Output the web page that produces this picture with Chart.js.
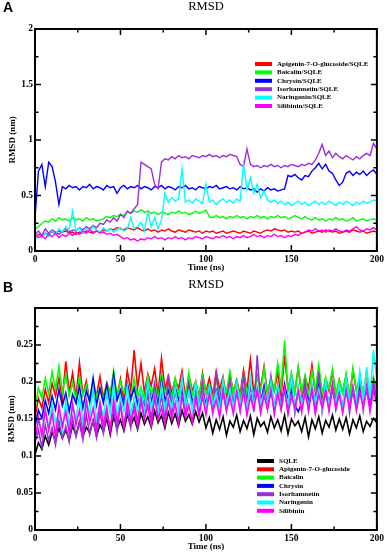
<!DOCTYPE html>
<html>
<head>
<meta charset="utf-8">
<script src="https://cdn.jsdelivr.net/npm/chart.js@4.4.1/dist/chart.umd.min.js"></script>
<style>
  html, body { margin: 0; padding: 0; background: #fff; }
  body { width: 387px; height: 553px; position: relative; overflow: hidden; }
  canvas { position: absolute; left: 0; }
  #chartA { top: 0; }
  #chartB { top: 275px; }
</style>
</head>
<body>
<canvas id="chartA" width="387" height="275"></canvas>
<canvas id="chartB" width="387" height="278"></canvas>
<script>
// sampling grid (ns)
const timeNs = [0,2,4,6,8,10,12,14,16,18,20,22,24,26,28,30,32,34,36,38,40,42,44,46,48,50,52,54,56,58,60,62,64,66,68,70,72,74,76,78,80,82,84,86,88,90,92,94,96,98,100,102,104,106,108,110,112,114,116,118,120,122,124,126,128,130,132,134,136,138,140,142,144,146,148,150,152,154,156,158,160,162,164,166,168,170,172,174,176,178,180,182,184,186,188,190,192,194,196,198,200];

const timeTicks = [0, 50, 100, 150, 200];
const timeMinorTicks = [25, 75, 125, 175];
const rmsdTicksA = [0, 0.5, 1, 1.5, 2];
const rmsdMinorA = [0.25, 0.75, 1.25, 1.75];
const rmsdTicksB = [0, 0.05, 0.1, 0.15, 0.2, 0.25, 0.3];
const rmsdMinorB = [0.025, 0.075, 0.125, 0.175, 0.225, 0.275];

// ---- panel A: complexes ----
const namesA = ["Apigenin-7-O-glucoside/SQLE", "Baicalin/SQLE", "Chrysin/SQLE", "Isorhamnetin/SQLE", "Naringenin/SQLE", "Silibinin/SQLE"];
const colorsA = ["#ff0000", "#00ff00", "#0000ff", "#9b30d9", "#00ffff", "#ff00ff"];

const apigeninA = [
  0.13,0.15,0.14,0.16,0.15,0.17,0.16,0.18,0.17,0.18,
  0.16,0.17,0.15,0.17,0.16,0.18,0.17,0.16,0.18,0.17,
  0.19,0.18,0.20,0.19,0.21,0.20,0.19,0.21,0.20,0.19,
  0.21,0.19,0.18,0.20,0.18,0.19,0.17,0.19,0.18,0.20,
  0.18,0.17,0.19,0.18,0.17,0.19,0.18,0.17,0.18,0.16,
  0.18,0.17,0.18,0.16,0.17,0.18,0.16,0.17,0.18,0.17,
  0.16,0.18,0.17,0.16,0.18,0.17,0.16,0.18,0.19,0.18,
  0.20,0.19,0.18,0.19,0.17,0.18,0.17,0.18,0.16,0.17,
  0.18,0.16,0.17,0.18,0.17,0.19,0.18,0.17,0.18,0.16,
  0.17,0.18,0.17,0.19,0.18,0.17,0.18,0.16,0.17,0.18,
  0.17];
const baicalinA = [
  0.20,0.22,0.25,0.27,0.26,0.29,0.27,0.30,0.28,0.29,
  0.27,0.30,0.28,0.29,0.27,0.30,0.28,0.29,0.27,0.28,
  0.29,0.31,0.30,0.32,0.31,0.33,0.32,0.35,0.34,0.36,
  0.35,0.37,0.35,0.36,0.34,0.35,0.33,0.35,0.34,0.33,
  0.35,0.34,0.36,0.34,0.35,0.33,0.34,0.36,0.34,0.35,
  0.37,0.31,0.30,0.32,0.30,0.31,0.29,0.31,0.30,0.32,
  0.30,0.31,0.29,0.31,0.30,0.32,0.30,0.31,0.29,0.31,
  0.30,0.32,0.30,0.31,0.29,0.30,0.32,0.30,0.29,0.31,
  0.29,0.28,0.30,0.28,0.29,0.27,0.29,0.28,0.30,0.28,
  0.29,0.27,0.28,0.30,0.27,0.28,0.29,0.27,0.28,0.29,
  0.28];
const chrysinA = [
  0.30,0.72,0.78,0.58,0.80,0.76,0.62,0.42,0.58,0.56,
  0.59,0.57,0.58,0.55,0.58,0.57,0.60,0.56,0.58,0.57,
  0.55,0.59,0.57,0.58,0.52,0.57,0.59,0.56,0.58,0.57,
  0.59,0.56,0.58,0.57,0.55,0.58,0.57,0.59,0.56,0.58,
  0.57,0.55,0.58,0.57,0.59,0.56,0.57,0.55,0.58,0.57,
  0.56,0.58,0.57,0.59,0.56,0.57,0.58,0.56,0.57,0.55,
  0.58,0.56,0.57,0.55,0.56,0.53,0.56,0.54,0.57,0.55,
  0.56,0.54,0.55,0.56,0.68,0.67,0.69,0.66,0.64,0.68,
  0.67,0.72,0.75,0.79,0.74,0.78,0.72,0.70,0.64,0.59,
  0.62,0.70,0.72,0.68,0.71,0.69,0.72,0.68,0.71,0.73,
  0.69];
const isorhamnetinA = [
  0.15,0.18,0.14,0.20,0.16,0.19,0.17,0.15,0.18,0.20,
  0.17,0.19,0.18,0.21,0.19,0.22,0.20,0.23,0.21,0.25,
  0.24,0.28,0.26,0.30,0.27,0.33,0.30,0.36,0.34,0.38,
  0.42,0.80,0.78,0.76,0.74,0.60,0.56,0.80,0.83,0.82,
  0.85,0.83,0.86,0.84,0.85,0.83,0.86,0.85,0.84,0.86,
  0.85,0.87,0.85,0.86,0.84,0.86,0.85,0.87,0.86,0.85,
  0.78,0.76,0.92,0.78,0.76,0.77,0.75,0.77,0.76,0.78,
  0.76,0.77,0.75,0.77,0.76,0.78,0.77,0.76,0.78,0.77,
  0.79,0.78,0.82,0.88,0.96,0.86,0.90,0.84,0.88,0.85,
  0.83,0.86,0.84,0.82,0.85,0.83,0.86,0.88,0.86,0.97,
  0.92];
const naringeninA = [
  0.10,0.14,0.12,0.16,0.13,0.18,0.15,0.20,0.17,0.22,
  0.19,0.36,0.18,0.21,0.16,0.20,0.18,0.22,0.19,0.17,
  0.21,0.18,0.20,0.17,0.19,0.21,0.18,0.20,0.30,0.20,
  0.22,0.26,0.18,0.35,0.22,0.30,0.20,0.28,0.52,0.44,
  0.48,0.45,0.47,0.74,0.44,0.46,0.43,0.47,0.45,0.43,
  0.60,0.44,0.46,0.42,0.45,0.47,0.44,0.46,0.43,0.47,
  0.45,0.78,0.55,0.66,0.52,0.60,0.48,0.54,0.46,0.44,
  0.46,0.43,0.45,0.42,0.44,0.41,0.43,0.45,0.42,0.44,
  0.41,0.43,0.45,0.42,0.44,0.42,0.45,0.43,0.41,0.44,
  0.42,0.45,0.43,0.41,0.44,0.42,0.45,0.43,0.44,0.46,
  0.45];
const silibininA = [
  0.15,0.12,0.14,0.11,0.15,0.13,0.16,0.12,0.15,0.13,
  0.16,0.14,0.17,0.15,0.18,0.16,0.19,0.17,0.18,0.16,
  0.17,0.15,0.16,0.14,0.15,0.13,0.11,0.12,0.10,0.11,
  0.09,0.11,0.10,0.12,0.11,0.13,0.11,0.12,0.10,0.12,
  0.11,0.13,0.11,0.12,0.10,0.12,0.11,0.13,0.12,0.11,
  0.13,0.12,0.11,0.13,0.12,0.14,0.12,0.13,0.11,0.13,
  0.12,0.14,0.12,0.13,0.15,0.13,0.14,0.12,0.14,0.13,
  0.15,0.13,0.14,0.12,0.14,0.13,0.15,0.14,0.16,0.17,
  0.19,0.18,0.20,0.18,0.19,0.17,0.19,0.18,0.20,0.18,
  0.17,0.19,0.18,0.20,0.22,0.19,0.18,0.20,0.19,0.21,
  0.19];

// ---- panel B: ligands alone ----
const namesB = ["SQLE", "Apigenin-7-O-glucoside", "Baicalin", "Chrysin", "Isorhamnetin", "Naringenin", "Silibinin"];
const colorsB = ["#000000", "#ff0000", "#00ff00", "#0000ff", "#9b30d9", "#00ffff", "#ff00ff"];

const sqleB = [
  0.102,0.118,0.109,0.127,0.115,0.132,0.121,0.138,0.124,0.135,
  0.122,0.141,0.128,0.146,0.126,0.139,0.131,0.148,0.127,0.142,
  0.133,0.151,0.129,0.154,0.137,0.149,0.134,0.156,0.141,0.152,
  0.136,0.158,0.143,0.153,0.139,0.161,0.145,0.155,0.138,0.159,
  0.144,0.157,0.141,0.162,0.147,0.156,0.143,0.160,0.146,0.158,
  0.138,0.152,0.131,0.149,0.136,0.153,0.128,0.147,0.139,0.155,
  0.133,0.148,0.137,0.154,0.129,0.151,0.140,0.146,0.132,0.153,
  0.138,0.149,0.134,0.155,0.130,0.150,0.141,0.147,0.133,0.152,
  0.126,0.149,0.137,0.153,0.131,0.148,0.139,0.155,0.135,0.150,
  0.136,0.152,0.130,0.149,0.138,0.154,0.133,0.147,0.140,0.151,
  0.145];
const apigeninB = [
  0.152,0.178,0.165,0.190,0.172,0.198,0.181,0.205,0.176,0.228,
  0.186,0.212,0.179,0.226,0.183,0.201,0.174,0.195,0.182,0.207,
  0.178,0.199,0.185,0.210,0.181,0.204,0.176,0.215,0.189,0.243,
  0.192,0.225,0.186,0.211,0.195,0.218,0.183,0.232,0.190,0.208,
  0.185,0.204,0.191,0.215,0.180,0.209,0.188,0.201,0.179,0.212,
  0.186,0.205,0.182,0.214,0.190,0.207,0.178,0.211,0.187,0.203,
  0.183,0.216,0.189,0.230,0.185,0.209,0.192,0.221,0.184,0.206,
  0.188,0.213,0.181,0.236,0.190,0.210,0.186,0.219,0.183,0.207,
  0.191,0.223,0.185,0.212,0.179,0.205,0.188,0.214,0.182,0.203,
  0.186,0.209,0.180,0.215,0.189,0.204,0.184,0.211,0.178,0.206,
  0.190];
const baicalinB = [
  0.165,0.192,0.178,0.205,0.184,0.214,0.190,0.221,0.186,0.210,
  0.181,0.199,0.175,0.207,0.183,0.196,0.172,0.203,0.180,0.192,
  0.176,0.198,0.182,0.215,0.179,0.201,0.185,0.197,0.174,0.205,
  0.180,0.194,0.177,0.208,0.183,0.199,0.176,0.211,0.184,0.196,
  0.179,0.205,0.185,0.198,0.176,0.212,0.182,0.200,0.178,0.209,
  0.184,0.197,0.175,0.206,0.181,0.199,0.187,0.214,0.183,0.202,
  0.178,0.210,0.186,0.201,0.180,0.207,0.189,0.218,0.184,0.204,
  0.190,0.225,0.192,0.256,0.188,0.213,0.184,0.220,0.187,0.209,
  0.182,0.215,0.189,0.223,0.185,0.206,0.191,0.217,0.183,0.203,
  0.186,0.211,0.179,0.219,0.188,0.207,0.184,0.214,0.180,0.205,
  0.188];
const chrysinB = [
  0.140,0.162,0.151,0.175,0.158,0.181,0.163,0.190,0.168,0.185,
  0.160,0.183,0.171,0.194,0.165,0.188,0.174,0.205,0.169,0.191,
  0.172,0.196,0.168,0.210,0.175,0.189,0.166,0.198,0.177,0.192,
  0.170,0.186,0.164,0.199,0.173,0.191,0.168,0.202,0.175,0.188,
  0.169,0.193,0.176,0.187,0.163,0.196,0.172,0.190,0.166,0.185,
  0.171,0.194,0.168,0.189,0.174,0.198,0.165,0.187,0.172,0.192,
  0.167,0.190,0.175,0.201,0.169,0.186,0.173,0.195,0.164,0.188,
  0.170,0.192,0.166,0.197,0.174,0.189,0.168,0.160,0.171,0.193,
  0.175,0.188,0.162,0.196,0.170,0.184,0.167,0.191,0.173,0.186,
  0.169,0.195,0.172,0.187,0.165,0.192,0.174,0.189,0.168,0.194,
  0.176];
const isorhamnetinB = [
  0.118,0.135,0.112,0.142,0.121,0.138,0.115,0.147,0.124,0.140,
  0.119,0.151,0.126,0.145,0.122,0.156,0.129,0.148,0.125,0.160,
  0.131,0.158,0.136,0.165,0.133,0.171,0.140,0.162,0.138,0.175,
  0.145,0.178,0.150,0.186,0.148,0.195,0.155,0.182,0.151,0.210,
  0.158,0.188,0.162,0.205,0.157,0.193,0.165,0.186,0.160,0.199,
  0.163,0.191,0.158,0.215,0.166,0.188,0.161,0.202,0.168,0.194,
  0.162,0.210,0.167,0.195,0.160,0.236,0.169,0.190,0.164,0.207,
  0.159,0.196,0.168,0.189,0.163,0.205,0.158,0.192,0.166,0.200,
  0.161,0.194,0.167,0.213,0.160,0.190,0.169,0.198,0.163,0.186,
  0.165,0.199,0.158,0.192,0.168,0.207,0.162,0.195,0.170,0.201,
  0.172];
const naringeninB = [
  0.120,0.148,0.131,0.162,0.138,0.170,0.145,0.158,0.135,0.175,
  0.142,0.168,0.150,0.182,0.146,0.177,0.155,0.190,0.149,0.172,
  0.153,0.185,0.158,0.198,0.151,0.180,0.161,0.194,0.156,0.178,
  0.162,0.189,0.157,0.201,0.165,0.184,0.159,0.196,0.163,0.181,
  0.166,0.192,0.160,0.205,0.168,0.187,0.162,0.199,0.167,0.183,
  0.164,0.195,0.169,0.186,0.161,0.203,0.170,0.190,0.165,0.198,
  0.171,0.188,0.163,0.206,0.168,0.192,0.172,0.185,0.166,0.200,
  0.169,0.194,0.163,0.189,0.171,0.207,0.165,0.193,0.170,0.186,
  0.167,0.198,0.172,0.190,0.164,0.202,0.169,0.187,0.173,0.196,
  0.166,0.204,0.171,0.193,0.175,0.214,0.169,0.220,0.178,0.243,
  0.205];
const silibininB = [
  0.120,0.152,0.128,0.163,0.135,0.158,0.126,0.168,0.140,0.160,
  0.131,0.170,0.142,0.162,0.130,0.174,0.145,0.165,0.136,0.172,
  0.141,0.166,0.134,0.176,0.146,0.168,0.138,0.174,0.148,0.163,
  0.139,0.177,0.150,0.168,0.141,0.180,0.149,0.166,0.143,0.175,
  0.150,0.171,0.144,0.182,0.152,0.169,0.146,0.178,0.154,0.181,
  0.156,0.184,0.160,0.176,0.153,0.188,0.162,0.179,0.157,0.186,
  0.161,0.187,0.155,0.180,0.163,0.190,0.158,0.182,0.164,0.189,
  0.157,0.185,0.162,0.192,0.156,0.181,0.165,0.188,0.159,0.186,
  0.163,0.191,0.157,0.183,0.166,0.189,0.160,0.193,0.164,0.184,
  0.158,0.187,0.165,0.194,0.161,0.186,0.167,0.190,0.160,0.189,
  0.170];

const seriesA = [apigeninA, baicalinA, chrysinA, isorhamnetinA, naringeninA, silibininA];
const seriesB = [sqleB, apigeninB, baicalinB, chrysinB, isorhamnetinB, naringeninB, silibininB];

const tickFont = { family: "'Liberation Serif', serif", size: 9.5, weight: "bold" };

// frame with inward ticks on all four sides, plus titles and legend
const framePlugin = {
  id: "frame",
  afterDraw(chart, args, o) {
    const { ctx, chartArea: a } = chart;
    const xs = chart.scales.x, ys = chart.scales.y;
    const seg = (x1, y1, x2, y2) => { ctx.beginPath(); ctx.moveTo(x1, y1); ctx.lineTo(x2, y2); ctx.stroke(); };
    ctx.save();
    ctx.strokeStyle = "#000";
    ctx.lineWidth = 1.5;
    const xTick = (v, len) => {
      const px = xs.getPixelForValue(v);
      seg(px, a.bottom, px, a.bottom - len);
      seg(px, a.top, px, a.top + len);
    };
    const yTick = (v, len) => {
      const py = ys.getPixelForValue(v);
      seg(a.left, py, a.left + len, py);
      seg(a.right, py, a.right - len, py);
    };
    timeTicks.forEach(v => xTick(v, 6));
    timeMinorTicks.forEach(v => xTick(v, 3.5));
    o.yMajor.forEach(v => yTick(v, 6));
    o.yMinor.forEach(v => yTick(v, 3.5));
    ctx.lineWidth = 2;
    ctx.strokeRect(a.left, a.top, a.right - a.left, a.bottom - a.top);

    const cx = (a.left + a.right) / 2;
    ctx.fillStyle = "#000";
    ctx.textBaseline = "middle";
    ctx.textAlign = "left";
    ctx.font = "bold 14px 'Liberation Sans', Arial, sans-serif";
    ctx.fillText(o.letter, 3, o.letterY);
    ctx.textAlign = "center";
    ctx.font = "12.5px 'Liberation Serif', serif";
    ctx.fillText("RMSD", cx, o.titleY);
    ctx.font = "bold 9px 'Liberation Serif', serif";
    ctx.fillText("Time (ns)", cx, a.bottom + 16.5);
    ctx.save();
    ctx.translate(o.yTitleX, (a.top + a.bottom) / 2);
    ctx.rotate(-Math.PI / 2);
    ctx.fillText("RMSD (nm)", 0, 0);
    ctx.restore();

    ctx.textAlign = "left";
    ctx.font = "bold 7px 'Liberation Serif', serif";
    o.names.forEach((name, i) => {
      const y = o.legendY + i * o.legendGap;
      ctx.fillStyle = o.colors[i];
      ctx.fillRect(o.legendX, y - 2, 17, 4);
      ctx.fillStyle = "#000";
      ctx.fillText(name, o.legendX + 22, y);
    });
    ctx.restore();
  }
};

function makeChart(id, names, colors, series, yMajor, yMinor, yMax, padTop, xHeight, lineW, extra) {
  const datasets = names.map((name, i) => ({
    label: name,
    data: series[i].map((v, k) => ({ x: timeNs[k], y: v })),
    borderColor: colors[i],
    borderWidth: lineW,
    pointRadius: 0,
    tension: 0,
    fill: false,
  })).reverse(); // later series drawn on top
  return new Chart(document.getElementById(id), {
    type: "line",
    data: { datasets },
    plugins: [framePlugin],
    options: {
      responsive: false,
      animation: false,
      layout: { padding: { left: 0, right: 8, top: padTop, bottom: 0 } },
      plugins: {
        legend: { display: false },
        title: { display: false },
        tooltip: { enabled: false },
        frame: Object.assign({ names, colors, yMajor, yMinor }, extra),
      },
      scales: {
        x: {
          type: "linear", min: 0, max: 200,
          grid: { display: false, drawTicks: false },
          border: { display: false },
          afterBuildTicks: s => { s.ticks = timeTicks.map(v => ({ value: v })); },
          afterFit: s => { s.height = xHeight; },
          ticks: { padding: 3, color: "#000", font: tickFont, maxRotation: 0, autoSkip: false },
        },
        y: {
          type: "linear", min: 0, max: yMax,
          grid: { display: false, drawTicks: false },
          border: { display: false },
          afterBuildTicks: s => { s.ticks = yMajor.map(v => ({ value: v })); },
          afterFit: s => { s.width = 35; },
          ticks: {
            padding: 2, color: "#000", font: tickFont, autoSkip: false,
            callback: v => (v === yMax && yMax === 0.3 ? "" : String(v)),
          },
        },
      },
    },
  });
}

makeChart("chartA", namesA, colorsA, seriesA, rmsdTicksA, rmsdMinorA, 2, 29, 24, 1.4,
  { letter: "A", letterY: 8, titleY: 7, yTitleX: 13, legendX: 255, legendY: 64, legendGap: 8.4 });
makeChart("chartB", namesB, colorsB, seriesB, rmsdTicksB, rmsdMinorB, 0.3, 33, 23, 1.6,
  { letter: "B", letterY: 13, titleY: 9.5, yTitleX: 12, legendX: 257, legendY: 186, legendGap: 8.3 });
</script>
</body>
</html>
